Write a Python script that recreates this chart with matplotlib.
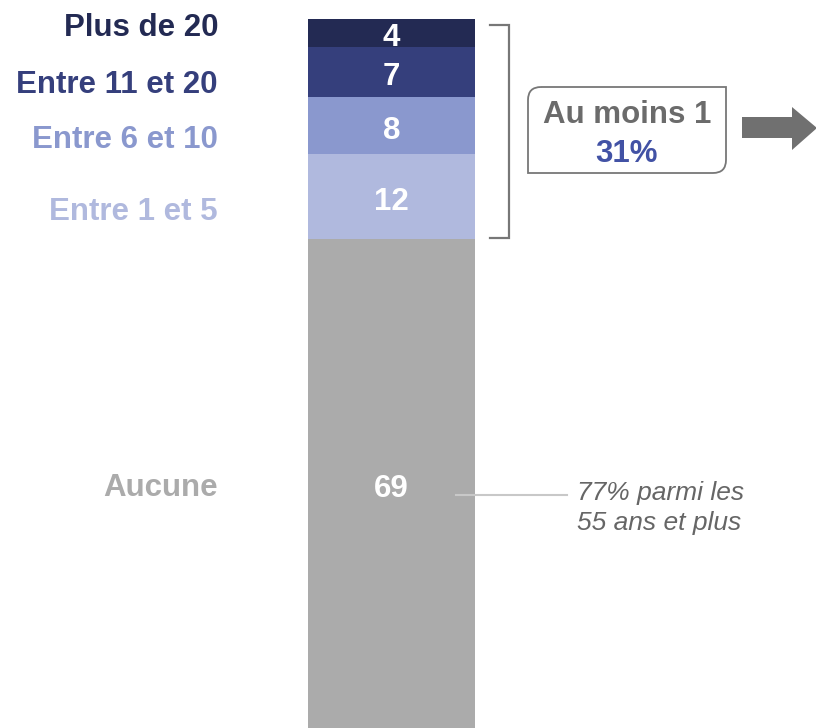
import numpy as np
import matplotlib.pyplot as plt
from matplotlib.path import Path
from matplotlib.patches import PathPatch, Polygon

categories = ["Aucune", "Entre 1 et 5", "Entre 6 et 10", "Entre 11 et 20", "Plus de 20"]
values = [69, 12, 8, 7, 4]
colors = ["#ABABAB", "#B0B9DE", "#8A98CE", "#353F7C", "#232A53"]
total_label = "Au moins 1"
total_value = "31%"
note = "77% parmi les\n55 ans et plus"

plt.rcParams['font.family'] = ['Liberation Sans', 'DejaVu Sans']

W, H = 816, 728
BAR_TOP = 19
BAR_X, BAR_W = 391.5, 167
FS = 22.5
scale = (H - BAR_TOP) / sum(values)

fig = plt.figure(figsize=(W / 100, H / 100), dpi=100)

# bar axes: x in pixels, y in percent
ax = fig.add_axes([0, 0, 1, 1])
ax.set_xlim(0, W)
ax.set_ylim(0, H / scale)
ax.axis("off")

# overlay in pixel coords (y down) for the decorations
ov = fig.add_axes([0, 0, 1, 1])
ov.set_xlim(0, W)
ov.set_ylim(H, 0)
ov.axis("off")
ov.patch.set_alpha(0)

bottoms = np.cumsum([0] + values[:-1])
ax.bar([BAR_X] * len(values), values, width=BAR_W, bottom=bottoms, color=colors, linewidth=0)

label_px = [488, 212, 140, 85, 28]
for cat, v, b, c, lp in zip(categories, values, bottoms, colors, label_px):
    ax.text(BAR_X, b + v / 2 - 0.75, str(v), ha="center", va="center", color="white",
            fontsize=FS, fontweight="bold")
    ov.text(218, lp, cat, ha="right", va="center", color=c, fontsize=FS, fontweight="bold")

# bracket
gray = "#777777"
ov.plot([490, 509, 509, 490], [25, 25, 238, 238], color=gray, lw=1.6, solid_joinstyle="miter")

# box with two rounded corners
x0, x1, y0, y1, r = 528, 726, 87, 173, 13
verts = [(x0 + r, y0), (x1, y0), (x1, y1 - r), (x1, y1), (x1 - r, y1),
         (x0, y1), (x0, y0 + r), (x0, y0), (x0 + r, y0)]
codes = [Path.MOVETO, Path.LINETO, Path.LINETO, Path.CURVE3, Path.CURVE3,
         Path.LINETO, Path.LINETO, Path.CURVE3, Path.CURVE3]
ov.add_patch(PathPatch(Path(verts, codes), facecolor="white", edgecolor=gray, lw=1.3))
ov.text(627, 115, total_label, ha="center", va="center", color="#6B6B6B",
        fontsize=FS, fontweight="bold")
ov.text(627, 154, total_value, ha="center", va="center", color="#4252A5",
        fontsize=FS, fontweight="bold")

# arrow
ov.add_patch(Polygon([(742, 117), (792, 117), (792, 107), (817, 128), (792, 150),
                      (792, 138), (742, 138)], closed=True, color="#707070", lw=0))

# note
ov.plot([456, 567], [495, 495], color="#C8C8C8", lw=1.5)
ov.text(577, 508, note, ha="left", va="center", color="#666666", fontsize=19,
        fontstyle="italic", linespacing=1.32)

fig.savefig("out.png", dpi=100)
